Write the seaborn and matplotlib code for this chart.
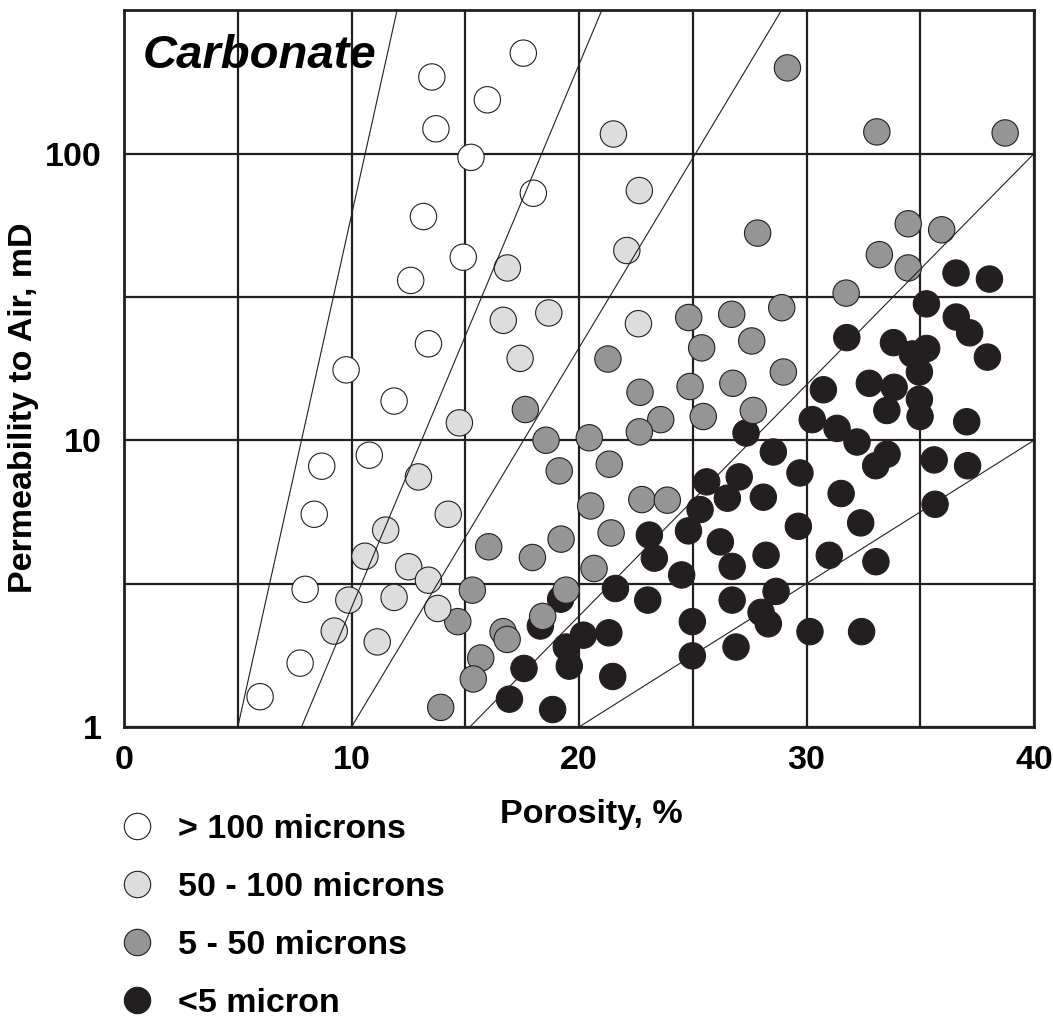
import numpy as np
import pandas as pd
import matplotlib
matplotlib.use('Agg')
import matplotlib.pyplot as plt
import seaborn as sns
from matplotlib.lines import Line2D
from matplotlib.ticker import FixedLocator, NullFormatter

# porosity (%) and air permeability (mD), one pair of lists per pore throat class
white_phi = [17.55, 13.53, 15.97, 13.71, 15.25, 17.99, 13.16, 14.91, 12.60, 13.38,
             9.76, 11.87, 10.78, 8.69, 8.36, 7.96, 7.74, 5.98]
white_k = [224, 185, 154, 122, 97, 72.7, 60.3, 43.5, 36.1, 21.7,
           17.6, 13.7, 8.87, 8.12, 5.52, 3.02, 1.67, 1.275]

light_phi = [21.51, 22.65, 22.10, 16.85, 16.67, 18.67, 17.41, 22.61, 14.74, 12.94,
             14.25, 11.50, 10.59, 12.51, 13.38, 9.88, 11.87, 13.79, 9.24, 11.13]
light_k = [117, 74.3, 45.9, 39.9, 26.2, 27.8, 19.3, 25.5, 11.5, 7.45,
           5.52, 4.86, 3.94, 3.62, 3.25, 2.77, 2.83, 2.59, 2.16, 1.98]

mid_phi = [24.82, 25.39, 26.71, 21.27, 29.16, 33.09, 38.73, 27.85, 34.47, 35.94,
           33.20, 34.47, 31.74, 28.91, 27.59, 28.98, 17.64, 22.68, 24.88, 26.76,
           23.59, 22.65, 25.46, 18.55, 20.45, 19.13, 21.33, 20.51, 22.76, 23.88,
           21.41, 16.03, 17.95, 19.21, 20.66, 15.31, 19.43, 14.67, 18.40, 16.66,
           16.84, 15.68, 15.35, 13.92, 27.66]
mid_k = [26.8, 21.0, 27.5, 19.2, 199, 119, 118, 52.8, 56.9, 54.2,
         44.4, 39.9, 32.6, 29.0, 22.2, 17.3, 12.8, 14.7, 15.4, 15.8,
         11.8, 10.7, 12.1, 10.0, 10.2, 7.82, 8.25, 5.90, 6.21, 6.18,
         4.75, 4.25, 3.90, 4.52, 3.57, 3.00, 3.00, 2.33, 2.43, 2.15,
         2.02, 1.74, 1.47, 1.17, 12.7]

black_phi = [36.57, 38.04, 35.27, 36.58, 37.17, 31.77, 33.82, 35.28, 34.65, 37.95,
             34.96, 25.61, 26.52, 25.32, 23.09, 24.81, 26.21, 23.31, 24.51, 26.73,
             19.19, 21.60, 23.02, 18.30, 20.19, 21.31, 19.44, 24.98, 26.73, 26.90,
             17.58, 19.57, 21.48, 24.98, 16.94, 18.84, 27.34, 30.74, 32.76, 33.85,
             34.96, 33.53, 34.99, 37.04, 30.25, 31.34, 32.22, 33.54, 33.04, 28.54,
             29.71, 27.04, 28.10, 31.52, 35.61, 37.08, 35.65, 29.64, 32.38, 28.22,
             31.00, 33.05, 28.66, 28.00, 28.32, 30.15, 32.42]
black_k = [38.3, 36.5, 29.9, 26.9, 23.7, 22.8, 21.9, 20.9, 20.0, 19.5,
           17.3, 7.16, 6.28, 5.73, 4.67, 4.83, 4.42, 3.88, 3.39, 3.63,
           2.79, 3.04, 2.77, 2.25, 2.09, 2.13, 1.90, 2.33, 2.77, 1.90,
           1.60, 1.63, 1.50, 1.77, 1.25, 1.15, 10.6, 15.0, 15.8, 15.3,
           13.9, 12.7, 12.1, 11.6, 11.8, 11.0, 9.86, 8.94, 8.15, 9.10,
           7.69, 7.45, 6.33, 6.52, 8.54, 8.15, 5.98, 5.01, 5.15, 3.97,
           3.97, 3.77, 2.97, 2.51, 2.29, 2.15, 2.15]

classes = ['> 100 microns', '50 - 100 microns', '5 - 50 microns', '<5 micron']
colors = ['#ffffff', '#dddddd', '#959595', '#231f20']

# straight lines on the semi-log grid: start/end porosity and end permeability (start at 1 mD)
line_phi_start = [5.0, 7.8, 10.0, 15.2, 20.0]
line_phi_end = [12.0, 21.0, 28.9, 40.0, 40.0]
line_k_end = [316.2, 316.2, 316.2, 100.0, 10.0]

ink = '#231f20'

# black first so the grey dots sit on top like in the original
df = pd.concat([
    pd.DataFrame({'porosity': black_phi, 'perm': black_k, 'pore': classes[3]}),
    pd.DataFrame({'porosity': mid_phi, 'perm': mid_k, 'pore': classes[2]}),
    pd.DataFrame({'porosity': light_phi, 'perm': light_k, 'pore': classes[1]}),
    pd.DataFrame({'porosity': white_phi, 'perm': white_k, 'pore': classes[0]}),
], ignore_index=True)

sns.set_style('white')
plt.rcParams['font.family'] = ['Liberation Sans', 'DejaVu Sans']
plt.rcParams['font.weight'] = 'bold'
plt.rcParams['text.color'] = 'black'
plt.rcParams['axes.labelcolor'] = 'black'

fig = plt.figure(figsize=(10.53, 10.21), dpi=100)
ax = fig.add_axes([0.1178, 0.288, 0.8642, 0.702])

sns.scatterplot(data=df, x='porosity', y='perm', hue='pore', hue_order=classes,
                palette=dict(zip(classes, colors)), s=360, edgecolor=ink,
                linewidth=0.8, legend=False, ax=ax, zorder=3)

for x0, x1, k1 in zip(line_phi_start, line_phi_end, line_k_end):
    ax.plot([x0, x1], [1, k1], color=ink, lw=0.8, zorder=4)

ax.set_yscale('log')
ax.set_xlim(0, 40)
ax.set_ylim(1, 10 ** 2.5)

ax.set_xticks([0, 10, 20, 30, 40])
ax.set_xticklabels(['0', '10', '20', '30', '40'])
ax.xaxis.set_minor_locator(FixedLocator([5, 15, 25, 35]))
ax.set_yticks([1, 10, 100])
ax.set_yticklabels(['1', '10', '100'])
ax.yaxis.set_minor_locator(FixedLocator([10 ** 0.5, 10 ** 1.5]))
ax.yaxis.set_minor_formatter(NullFormatter())

ax.grid(True, which='both', color=ink, lw=1.6, zorder=1)
ax.set_axisbelow(True)
ax.tick_params(which='both', length=0, labelsize=24.5, colors='black')
ax.tick_params(axis='x', pad=13)
ax.tick_params(axis='y', pad=16)
for t in ax.get_xticklabels() + ax.get_yticklabels():
    t.set_fontweight('bold')
for sp in ax.spines.values():
    sp.set_color(ink)
    sp.set_linewidth(2)
    sp.set_visible(True)

ax.set_xlabel('Porosity, %', fontsize=24.5, fontweight='bold', color='black')
ax.set_ylabel('Permeability to Air, mD', fontsize=24.5, fontweight='bold', color='black')
ax.xaxis.set_label_coords(0.514, -0.10)
ax.yaxis.set_label_coords(-0.093, 0.446)

ax.text(0.02, 0.92, 'Carbonate', transform=ax.transAxes, fontsize=34, color='black',
        fontweight='bold', fontstyle='italic', va='baseline', ha='left', zorder=5)

handles = [Line2D([], [], ls='none', marker='o', markersize=19, markerfacecolor=c,
                  markeredgecolor=ink, markeredgewidth=0.8) for c in colors]
leg = fig.legend(handles, classes, loc='upper left', bbox_to_anchor=(0.114, 0.203),
                 bbox_transform=fig.transFigure, frameon=False,
                 handlelength=1.0, handletextpad=0.7, labelspacing=0.8,
                 borderpad=0, borderaxespad=0, prop={'weight': 'bold', 'size': 24.5})
for t in leg.get_texts():
    t.set_color('black')

fig.savefig('out.png', dpi=100)
